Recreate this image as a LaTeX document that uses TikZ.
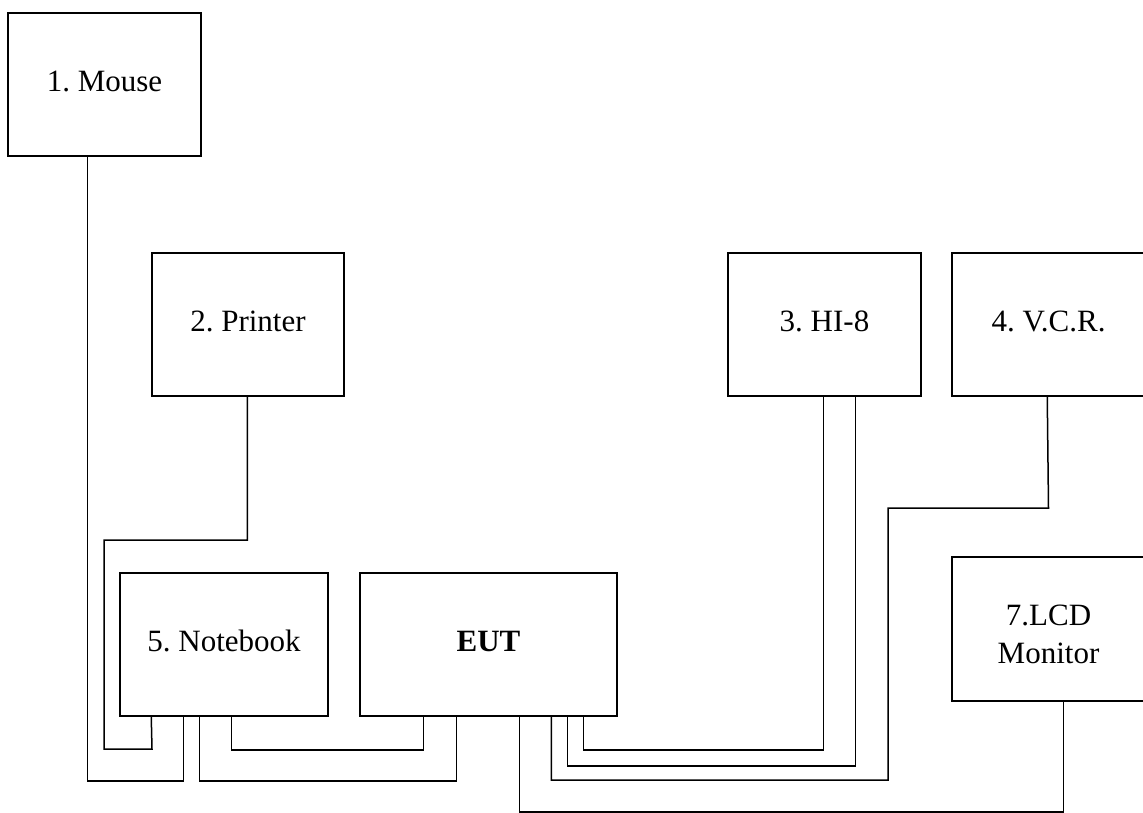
\documentclass[tikz,border=0pt]{standalone}
\usepackage{fontspec}
\setmainfont{Liberation Serif}
\frenchspacing
\begin{document}
\begin{tikzpicture}[x=1pt,y=-1pt,
  box/.style={draw,line width=1.5pt,rectangle,inner sep=0pt,
    font=\fontsize{31}{38}\selectfont,text height=20pt,text depth=6pt},
  wire/.style={line width=1.5pt}]
\useasboundingbox (0,0) rectangle (1143,812);
\node[box,minimum width=193pt,minimum height=143pt] (mouse) at (104.5,84.5) {1. Mouse};
\node[box,minimum width=192pt,minimum height=143pt] (printer) at (248,324.5) {2. Printer};
\node[box,minimum width=193pt,minimum height=143pt] (hi8) at (824.5,324.5) {3. HI-8};
\node[box,minimum width=193pt,minimum height=143pt] (vcr) at (1048.5,324.5) {4. V.C.R.};
\node[box,minimum width=208pt,minimum height=143pt] (notebook) at (224,644.5) {5. Notebook};
\node[box,minimum width=257pt,minimum height=143pt] (eut) at (488.5,644.5) {\textbf{EUT}};
\node[box,minimum width=193pt,minimum height=144pt] (lcd) at (1048.5,629) {};
\node[font=\fontsize{31}{38}\selectfont,align=center,inner sep=0pt,yshift=-5pt] (lcdtext) at (lcd.center) {7.LCD\\Monitor};
% mouse to notebook
\draw[wire] ([xshift=80pt]mouse.south west) -- ++(0,624) -| ([xshift=64pt]notebook.south west);
% printer to notebook
\draw[wire] ([xshift=96pt]printer.south west) |- (104,540) |- (152,749) -- ([xshift=32pt]notebook.south west);
% notebook to EUT
\draw[wire] ([xshift=112pt]notebook.south west) -- ++(0,33) -| ([xshift=64pt]eut.south west);
\draw[wire] ([xshift=80pt]notebook.south west) -- ++(0,64) -| ([xshift=97pt]eut.south west);
% EUT to LCD
\draw[wire] ([xshift=160pt]eut.south west) -- ++(0,95) -| ([xshift=112pt]lcd.south west);
% EUT to VCR
\draw[wire] ([xshift=192pt]eut.south west) |- (888,780) |- (1048.5,508) -- ([xshift=96pt]vcr.south west);
% EUT to HI-8
\draw[wire] ([xshift=208pt]eut.south west) -- ++(0,49) -| ([xshift=128pt]hi8.south west);
\draw[wire] ([xshift=224pt]eut.south west) -- ++(0,33) -| ([xshift=96pt]hi8.south west);
\end{tikzpicture}
\end{document}
